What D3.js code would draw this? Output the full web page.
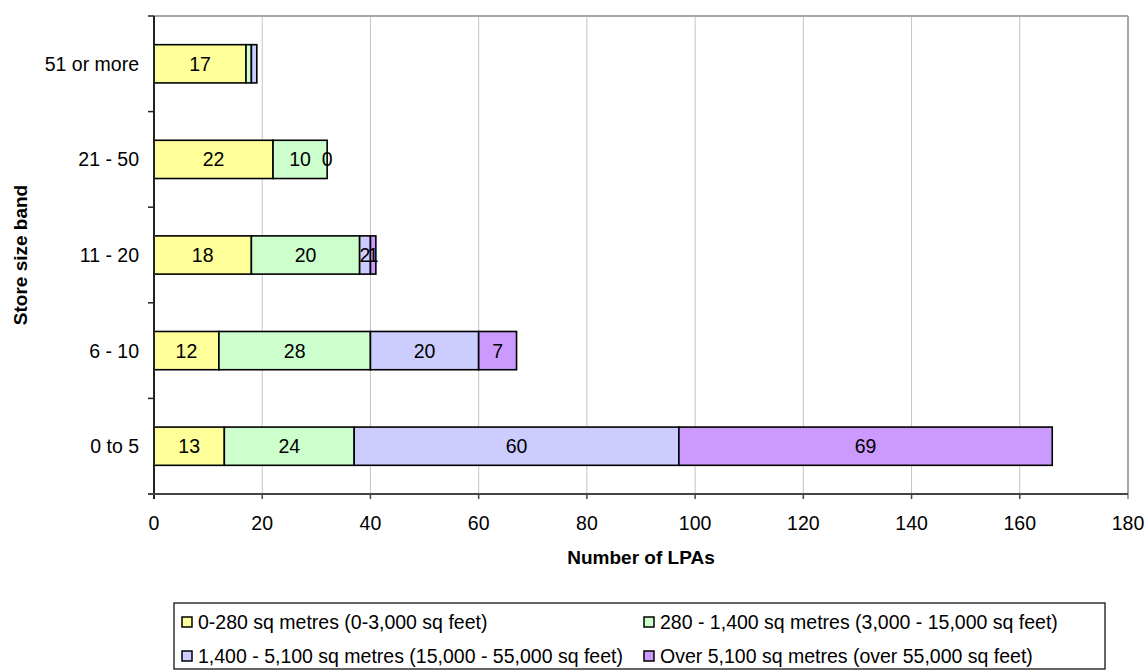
<!DOCTYPE html>
<html>
<head>
<meta charset="utf-8">
<script src="https://d3js.org/d3.v7.min.js"></script>
<style>
  html, body { margin: 0; padding: 0; background: #fff; }
  svg { display: block; font-family: "Liberation Sans", Arial, sans-serif; }
</style>
</head>
<body>
<svg id="chart" width="1145" height="671"></svg>
<script>
// Store size bands, listed from top row to bottom row
const categories = ["51 or more", "21 - 50", "11 - 20", "6 - 10", "0 to 5"];

// Floorspace classes (stack order, left to right)
const seriesNames = [
  "0-280 sq metres (0-3,000 sq feet)",
  "280 - 1,400 sq metres (3,000 - 15,000 sq feet)",
  "1,400 - 5,100 sq metres (15,000 - 55,000 sq feet)",
  "Over 5,100 sq metres (over 55,000 sq feet)"
];
const seriesColors = ["#FFFF99", "#CCFFCC", "#CCCCFF", "#CC99FF"];

// Number of LPAs per band, one array per floorspace class (same order as categories)
const small     = [17, 22, 18, 12, 13];
const medium    = [1, 10, 20, 28, 24];
const large     = [1, 0, 2, 20, 60];
const veryLarge = [0, null, 1, 7, 69];

// Segments whose value is not printed on the bar
const unlabelled = [["51 or more", 1], ["51 or more", 2], ["51 or more", 3]];

const xTicks = [0, 20, 40, 60, 80, 100, 120, 140, 160, 180];

const svg = d3.select("#chart");
const margin = { left: 154, right: 1128, top: 16, bottom: 494 };

const x = d3.scaleLinear().domain([0, 180]).range([margin.left, margin.right]);
const y = d3.scaleBand().domain(categories).range([margin.top, margin.bottom]).padding(0);
const barH = y.bandwidth() * 0.4;

// Vertical gridlines
svg.append("g")
  .selectAll("line")
  .data(xTicks.slice(1))
  .join("line")
  .attr("x1", d => x(d)).attr("x2", d => x(d))
  .attr("y1", margin.top).attr("y2", margin.bottom)
  .attr("stroke", "#c4c4c4").attr("stroke-width", 1);

// Plot frame (top and right edges)
svg.append("line")
  .attr("x1", margin.left).attr("x2", margin.right)
  .attr("y1", margin.top).attr("y2", margin.top)
  .attr("stroke", "#a6a6a6").attr("stroke-width", 2);
svg.append("line")
  .attr("x1", margin.right).attr("x2", margin.right)
  .attr("y1", margin.top).attr("y2", margin.bottom + 5)
  .attr("stroke", "#a6a6a6").attr("stroke-width", 2);

// Stack the series
const allSeries = [small, medium, large, veryLarge];
const rows = categories.map((c, i) => {
  const r = { cat: c };
  allSeries.forEach((s, k) => { r["s" + k] = s[i]; });
  return r;
});
const keys = allSeries.map((s, k) => "s" + k);
const stacked = d3.stack().keys(keys).value((d, k) => d[k] == null ? 0 : d[k])(rows);

const isHidden = (cat, k) => unlabelled.some(u => u[0] === cat && u[1] === k);

stacked.forEach((layer, k) => {
  const segs = layer.filter(d => d.data[keys[k]] != null);
  svg.append("g")
    .selectAll("rect")
    .data(segs.filter(d => d.data[keys[k]] > 0))
    .join("rect")
    .attr("x", d => x(d[0]))
    .attr("width", d => x(d[1]) - x(d[0]))
    .attr("y", d => y(d.data.cat) + (y.bandwidth() - barH) / 2)
    .attr("height", barH)
    .attr("fill", seriesColors[k])
    .attr("stroke", "#000")
    .attr("stroke-width", 1.6);
  layer.labelData = segs.filter(d => !isHidden(d.data.cat, k));
});

// Value labels drawn above all bars
stacked.forEach((layer, k) => {
  svg.append("g")
    .selectAll("text")
    .data(layer.labelData)
    .join("text")
    .attr("x", d => (x(d[0]) + x(d[1])) / 2)
    .attr("y", d => y(d.data.cat) + y.bandwidth() / 2)
    .attr("dy", "0.36em")
    .attr("text-anchor", "middle")
    .attr("font-size", 19.5)
    .attr("fill", "#000")
    .text(d => d.data[keys[k]]);
});

// Y axis
const yAxis = svg.append("g");
yAxis.append("line")
  .attr("x1", margin.left).attr("x2", margin.left)
  .attr("y1", margin.top).attr("y2", margin.bottom + 5)
  .attr("stroke", "#222").attr("stroke-width", 2);
const yBounds = categories.map(c => y(c)).concat([margin.bottom]);
yAxis.selectAll("line.tick")
  .data(yBounds)
  .join("line")
  .attr("class", "tick")
  .attr("x1", margin.left - 6).attr("x2", margin.left)
  .attr("y1", d => d).attr("y2", d => d)
  .attr("stroke", "#222").attr("stroke-width", 1.5);
yAxis.selectAll("text")
  .data(categories)
  .join("text")
  .attr("x", 139)
  .attr("y", d => y(d) + y.bandwidth() / 2)
  .attr("dy", "0.36em")
  .attr("text-anchor", "end")
  .attr("font-size", 19.5)
  .text(d => d);

// X axis
const xAxis = svg.append("g");
xAxis.append("line")
  .attr("x1", margin.left - 6).attr("x2", margin.right)
  .attr("y1", margin.bottom).attr("y2", margin.bottom)
  .attr("stroke", "#444").attr("stroke-width", 2);
xAxis.selectAll("line.tick")
  .data(xTicks.slice(1, -1))
  .join("line")
  .attr("class", "tick")
  .attr("x1", d => x(d)).attr("x2", d => x(d))
  .attr("y1", margin.bottom).attr("y2", margin.bottom + 5)
  .attr("stroke", "#444").attr("stroke-width", 1.5);
xAxis.selectAll("text")
  .data(xTicks)
  .join("text")
  .attr("x", d => x(d))
  .attr("y", 523)
  .attr("dy", "0.36em")
  .attr("text-anchor", "middle")
  .attr("font-size", 19.5)
  .text(d => d);

// Axis titles
svg.append("text")
  .attr("x", (margin.left + margin.right) / 2)
  .attr("y", 557)
  .attr("dy", "0.36em")
  .attr("text-anchor", "middle")
  .attr("font-size", 19)
  .attr("font-weight", "bold")
  .text("Number of LPAs");

svg.append("text")
  .attr("transform", `translate(20,${(margin.top + margin.bottom) / 2}) rotate(-90)`)
  .attr("dy", "0.36em")
  .attr("text-anchor", "middle")
  .attr("font-size", 19)
  .attr("font-weight", "bold")
  .text("Store size band");

// Legend
const legend = svg.append("g");
legend.append("rect")
  .attr("x", 174).attr("y", 603)
  .attr("width", 931).attr("height", 66)
  .attr("fill", "#fff")
  .attr("stroke", "#000").attr("stroke-width", 1.2);
const legendPos = [[182, 622], [644, 622], [182, 656], [644, 656]];
const items = legend.selectAll("g.item")
  .data(seriesNames)
  .join("g")
  .attr("class", "item")
  .attr("transform", (d, i) => `translate(${legendPos[i][0]},${legendPos[i][1]})`);
items.append("rect")
  .attr("x", 0).attr("y", -5)
  .attr("width", 10).attr("height", 10)
  .attr("fill", (d, i) => seriesColors[i])
  .attr("stroke", "#000").attr("stroke-width", 1.5);
items.append("text")
  .attr("x", 16)
  .attr("dy", "0.36em")
  .attr("font-size", 19.5)
  .text(d => d);
</script>
</body>
</html>
